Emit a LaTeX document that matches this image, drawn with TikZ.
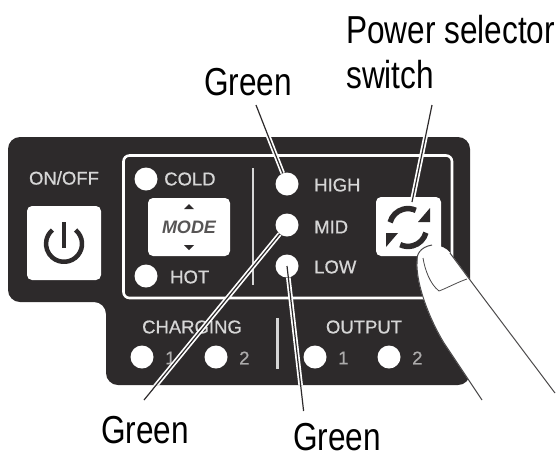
\documentclass[tikz,border=0pt]{standalone}
\usepackage{fontspec}
\setmainfont{Liberation Sans}
\newfontfamily\heavyface[FakeBold=0.6]{Liberation Sans}
\definecolor{panel}{HTML}{2D2A2B}
\definecolor{soft}{HTML}{D6D6D6}
\newcommand{\calloutfont}[1]{\scalebox{.81}[1]{\fontsize{39}{42}\selectfont #1}}
\tikzset{
  x=1pt,y=-1pt,
  lamp/.style={circle,fill=white,inner sep=0pt,minimum size=#1},
  lamp/.default=23,
  legend/.style={text=soft,font=\heavyface\fontsize{18.5}{20}\selectfont,inner sep=0pt},
  keycap/.style={fill=white,rounded corners=5pt},
  callout/.style={text=black,inner sep=0pt,anchor=base west},
  halo/.style={white,line width=4.6pt},
  leader/.style={panel,line width=1.2pt},
  fingerline/.style={draw=panel!85,line width=1pt,line join=round},
}
\begin{document}
\begin{tikzpicture}
\useasboundingbox (0,0) rectangle (559,456);
% housing
\fill[panel,rounded corners=12pt] (8,137) -- (470,137) -- (470,385) -- (106,385) -- (106,302) -- (8,302) -- cycle;
\draw[white,line width=2.6pt,rounded corners=6pt] (123.5,155.5) rectangle (452,298);
% dividers
\draw[soft,line width=2.6pt] (253,168) -- (253,285);
\draw[soft,line width=3pt] (277,318) -- (277,369);
% power key
\fill[keycap] (27,206) rectangle (101,280);
\draw[panel,line width=4.5pt] (75.6,230) arc[start angle=-50,end angle=230,radius=18];
\draw[panel,line width=4.5pt] (64,222) -- (64,248);
\node[legend] (onoff) at (64,178) {ON/OFF};
% mode key
\fill[keycap] (148,198) rectangle (230,256);
\node[text=panel!80,font=\fontsize{18}{20}\selectfont\bfseries\itshape,inner sep=0pt] (mode) at (189,227) {MODE};
\fill[panel] (189,204) -- (184,209) -- (194,209) -- cycle;
\fill[panel] (189,250) -- (184,245) -- (194,245) -- cycle;
% selector key with its two arrows
\fill[keycap] (376,197) rectangle (441,256);
\draw[panel,line width=5.5pt] (390.1,222.3) arc[start angle=195,end angle=295,radius=18.5];
\fill[panel] (430,208) -- (430,222) -- (418,222) -- cycle;
\draw[panel,line width=5.5pt] (425.9,232.7) arc[start angle=15,end angle=115,radius=18.5];
\fill[panel] (386,247) -- (386,233) -- (398,233) -- cycle;
% lamps
\node[lamp] (cold) at (146,179) {};
\node[lamp] (hot) at (146,276) {};
\node[lamp] (high) at (287,184) {};
\node[lamp] (mid) at (287,225) {};
\node[lamp] (low) at (287,266) {};
\node[lamp] (chgone) at (142,357) {};
\node[lamp] (chgtwo) at (216,357) {};
\node[lamp] (outone) at (315,357) {};
\node[lamp] (outtwo) at (389,357) {};
% panel legends
\node[legend,anchor=west] at (164,179) {COLD};
\node[legend,anchor=west] at (170,277) {HOT};
\node[legend,anchor=west] at (314,185) {HIGH};
\node[legend,anchor=west] at (314,227) {MID};
\node[legend,anchor=west] at (314,267) {LOW};
\node[legend] at (192,327) {CHARGING};
\node[legend] at (364,327) {OUTPUT};
\node[legend,anchor=west,text=soft!75!panel] at (165,358) {1};
\node[legend,anchor=west,text=soft!75!panel] at (239,358) {2};
\node[legend,anchor=west,text=soft!75!panel] at (338,358) {1};
\node[legend,anchor=west,text=soft!75!panel] at (412,358) {2};
% finger
\filldraw[white,draw=white] (419,252) .. controls (428,244) and (442,243) .. (450,253)
  -- (470,280) -- (555,393) -- (482,400) -- (444,343)
  .. controls (430,320) and (416,285) .. (417,262) -- cycle;
\draw[fingerline] (482,400) -- (444,343) .. controls (430,320) and (416,285) .. (417,262)
  .. controls (416,255) and (420,247) .. (432,245);
\draw[fingerline] (450,253) -- (470,280) -- (555,393);
\draw[fingerline,line width=.8pt] (423,258) .. controls (425,270) and (430,284) .. (439,291)
  .. controls (447,288) and (458,282) .. (467,279);
% callout labels
\node[callout] (greentop) at (204,95) {\calloutfont{Green}};
\node[callout] (greenleft) at (101,443) {\calloutfont{Green}};
\node[callout] (greenlow) at (293,450) {\calloutfont{Green}};
\node[callout] (power) at (346,43) {\calloutfont{Power selector}};
\node[callout] (switchlabel) at (346,88) {\calloutfont{switch}};
% anchors of the free leader ends
\coordinate (hightail) at (256,105);
\coordinate (midtail) at (144,400);
\coordinate (lowtail) at (303.6,411);
\coordinate (powertail) at (432,105);
\coordinate (powerhead) at (412,202);
% leaders: light halo over the panel, dark core on top
\begin{scope}
  \clip[rounded corners=12pt] (8,137) -- (470,137) -- (470,385) -- (106,385) -- (106,302) -- (8,302) -- cycle;
  \draw[halo] (hightail) -- (high);
  \draw[halo] (midtail) -- (mid);
  \draw[halo] (lowtail) -- (low);
  \draw[halo] (powertail) -- (powerhead);
\end{scope}
\draw[leader] (hightail) -- (high);
\draw[leader] (midtail) -- (mid);
\draw[leader] (lowtail) -- (low.center);
\draw[leader] (powertail) -- (powerhead);
\end{tikzpicture}
\end{document}
